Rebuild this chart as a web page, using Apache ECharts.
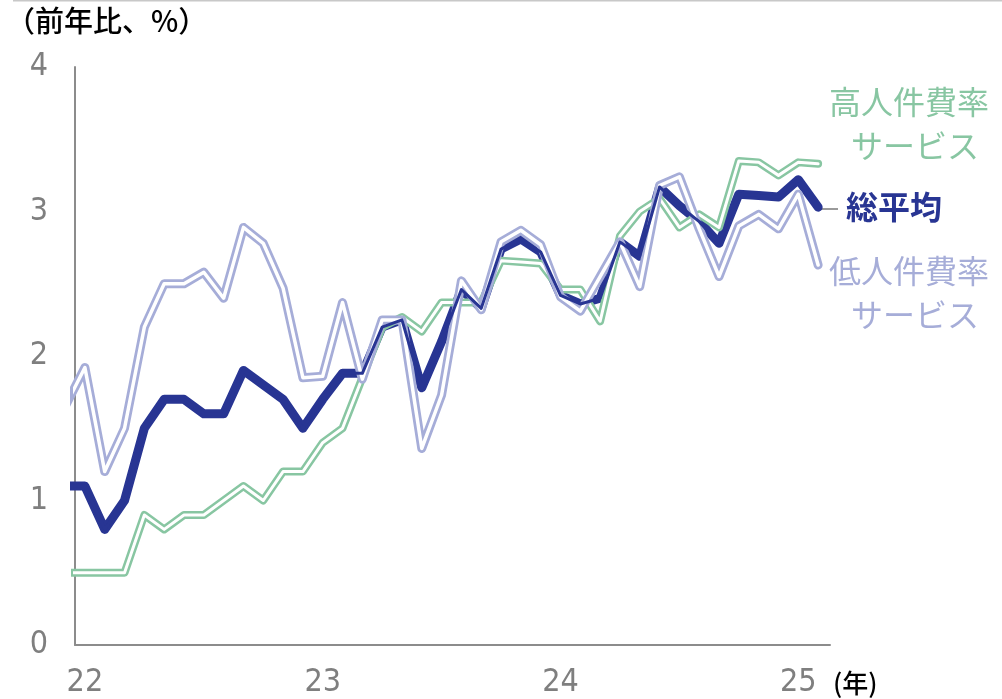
<!DOCTYPE html>
<html>
<head>
<meta charset="utf-8">
<script src="https://cdn.jsdelivr.net/npm/echarts@6/dist/echarts.min.js"></script>
<style>
  html,body{margin:0;padding:0;background:#fff;}
  #chart{width:1002px;height:699px;}
</style>
</head>
<body>
<div id="chart"></div>
<script>
// 月次 (2021/12 = -1, 2022/1 = 0 ... 2025/2 = 37)
var startIdx = -1;
var totalAvg = [1.1, 1.1, 0.8, 1.0, 1.5, 1.7, 1.7, 1.6, 1.6, 1.9, 1.8, 1.7, 1.5,
  1.7, 1.88, 1.88, 2.2, 2.25, 1.78, 2.1, 2.46, 2.33, 2.74, 2.81, 2.72, 2.42,
  2.36, 2.4, 2.79, 2.69, 3.17, 3.04, 2.93, 2.78, 3.12, 3.11, 3.1, 3.22, 3.03];
var highLabor = [0.5, 0.5, 0.5, 0.5, 0.9, 0.8, 0.9, 0.9, 1.0, 1.1, 1.0, 1.2, 1.2,
  1.4, 1.5, 1.85, 2.2, 2.27, 2.17, 2.37, 2.37, 2.37, 2.66, 2.65, 2.64, 2.46,
  2.46, 2.24, 2.83, 3.0, 3.09, 2.89, 2.98, 2.89, 3.35, 3.34, 3.25, 3.34, 3.33];
var lowLabor = [1.65, 1.92, 1.2, 1.5, 2.2, 2.5, 2.5, 2.58, 2.4, 2.89, 2.78, 2.47, 1.85,
  1.86, 2.37, 1.84, 2.25, 2.25, 1.36, 1.73, 2.52, 2.32, 2.79, 2.87, 2.77, 2.41,
  2.31, 2.55, 2.79, 2.48, 3.18, 3.24, 2.88, 2.55, 2.9, 2.98, 2.88, 3.12, 2.63];
var yearTickPos = [0, 12, 24, 36];
var yearTickLabels = ['22', '23', '24', '25'];

var navy = '#283593', green = '#88c6a2', lavender = '#a6add8';

function pairs(arr){
  return arr.map(function(v, i){ return [startIdx + i, v]; });
}
function lineSeries(name, arr, color, width, z){
  return {
    name: name, type: 'line', data: pairs(arr), symbol: 'none', z: z,
    silent: true,
    lineStyle: {color: color, width: width, cap: 'round', join: 'round'}
  };
}

var chart = echarts.init(document.getElementById('chart'));
var numFont = "'Liberation Sans Narrow', 'DejaVu Sans Condensed', sans-serif";
var jpFont = "'Noto Sans CJK JP', sans-serif";

var option = {
  animation: false,
  grid: {left: 75, top: 67, right: 172, bottom: 50},
  xAxis: {
    type: 'value', min: -0.5, max: 37.6,
    axisLine: {show: true, lineStyle: {color: '#8c8c8c', width: 2}},
    axisTick: {show: false},
    splitLine: {show: false},
    axisLabel: {
      customValues: yearTickPos,
      formatter: function(v){ return yearTickLabels[yearTickPos.indexOf(v)]; },
      color: '#7f7f7f', fontSize: 32, fontFamily: numFont, margin: 22
    }
  },
  yAxis: {
    type: 'value', min: 0, max: 4, interval: 1,
    axisLine: {show: true, onZero: false, lineStyle: {color: '#8c8c8c', width: 2}},
    axisTick: {show: false},
    splitLine: {show: false},
    axisLabel: {color: '#7f7f7f', fontSize: 32, fontFamily: numFont, margin: 27}
  },
  series: [
    lineSeries('総平均', totalAvg, navy, 9, 1),
    lineSeries('高人件費率', highLabor, green, 8, 2),
    lineSeries('高人件費率w', highLabor, '#ffffff', 3, 3),
    lineSeries('低人件費率', lowLabor, lavender, 9, 4),
    lineSeries('低人件費率w', lowLabor, '#ffffff', 3.5, 5),
    lineSeries('総平均c', totalAvg, navy, 3, 6)
  ],
  graphic: [
    {type: 'rect', shape: {x: 13, y: 0, width: 989, height: 1.5}, style: {fill: '#c8c8c8'}},
    {type: 'text', left: 6, top: 6, style: {text: '（前年比、%）', font: '500 29px ' + jpFont, fill: '#000'}},
    {type: 'text', left: 833, top: 670, style: {text: '(年)', font: '500 26px ' + jpFont, fill: '#000'}},
    {type: 'text', left: 829, top: 86, style: {text: '高人件費率', font: '32px ' + jpFont, fill: green}},
    {type: 'text', left: 851, top: 130, style: {text: 'サービス', font: '32px ' + jpFont, fill: green}},
    {type: 'text', left: 846, top: 191, style: {text: '総平均', font: 'bold 32px ' + jpFont, fill: navy}},
    {type: 'line', shape: {x1: 819, y1: 209, x2: 838, y2: 209}, style: {stroke: '#9a9a9a', lineWidth: 2}},
    {type: 'text', left: 829, top: 255, style: {text: '低人件費率', font: '32px ' + jpFont, fill: lavender}},
    {type: 'text', left: 851, top: 299, style: {text: 'サービス', font: '32px ' + jpFont, fill: lavender}}
  ]
};
chart.setOption(option);
</script>
</body>
</html>
